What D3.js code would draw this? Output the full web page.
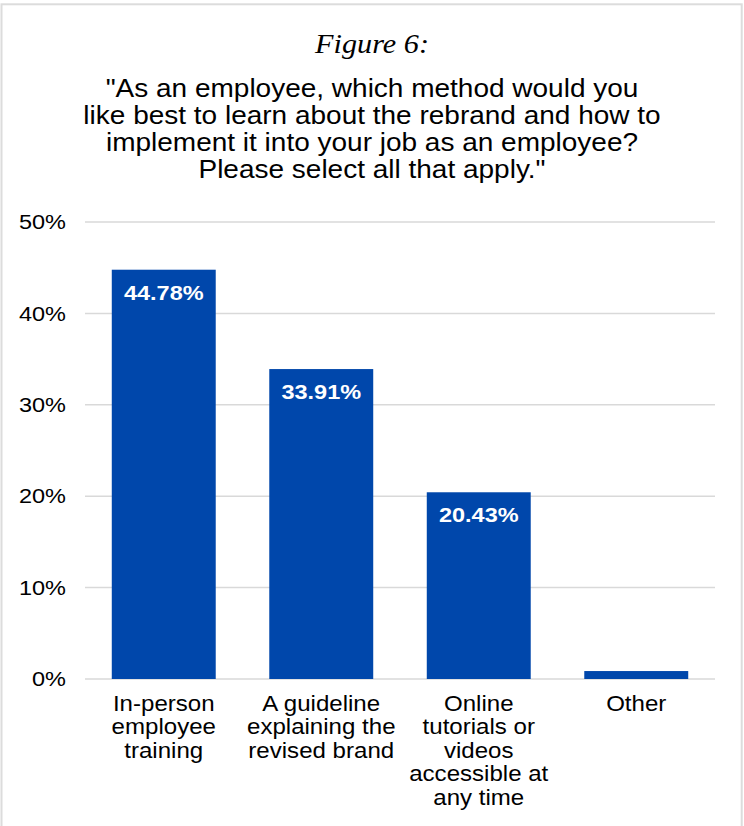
<!DOCTYPE html>
<html>
<head>
<meta charset="utf-8">
<script src="https://cdn.jsdelivr.net/npm/d3@7"></script>
<style>
  body { margin: 0; background: #fff; }
</style>
</head>
<body>
<script>
// chart data
var categories = [
    ["In-person", "employee", "training"],
    ["A guideline", "explaining the", "revised brand"],
    ["Online", "tutorials or", "videos", "accessible at", "any time"],
    ["Other"]
];
var values = [44.78, 33.91, 20.43, 0.87];
var valueLabels = ["44.78%", "33.91%", "20.43%", ""];
var yTicks = [0, 10, 20, 30, 40, 50];
var titleText = "Figure 6:";
var subtitleLines = [
    "\"As an employee, which method would you",
    "like best to learn about the rebrand and how to",
    "implement it into your job as an employee?",
    "Please select all that apply.\""
];

var width = 744, height = 826;
var sans = "'Liberation Sans', Arial, Helvetica, sans-serif";
var sx = 1.12; // the original text is a bit wider than it is tall

var svg = d3.select("body")
    .append("svg")
    .attr("width", width)
    .attr("height", height);

// outer frame
svg.append("rect")
    .attr("x", 1.5).attr("y", 4.3)
    .attr("width", 740.2).attr("height", 830)
    .attr("fill", "#fff")
    .attr("stroke", "#dcdcdc")
    .attr("stroke-width", 2);

// titles
svg.append("text")
    .attr("transform", "translate(372,53) scale(" + sx + ",1)")
    .attr("text-anchor", "middle")
    .attr("font-family", "'Liberation Serif', 'Times New Roman', serif")
    .attr("font-style", "italic")
    .attr("font-size", 27)
    .text(titleText);

svg.selectAll(".subtitle")
    .data(subtitleLines)
    .enter()
    .append("text")
    .attr("class", "subtitle")
    .attr("transform", function(d, i){
        return "translate(372," + (97 + i * 27) + ") scale(" + sx + ",1)";
    })
    .attr("text-anchor", "middle")
    .attr("font-family", sans)
    .attr("font-size", 25)
    .text(function(d){ return d; });

var x = d3.scaleBand()
    .domain(d3.range(categories.length))
    .range([85, 715])
    .paddingInner(0.34)
    .paddingOuter(0.17);

var y = d3.scaleLinear()
    .domain([0, 50])
    .range([679, 222]);

// gridlines
svg.selectAll(".grid")
    .data(yTicks)
    .enter()
    .append("line")
    .attr("class", "grid")
    .attr("x1", 85).attr("x2", 715)
    .attr("y1", function(d){ return y(d); })
    .attr("y2", function(d){ return y(d); })
    .attr("stroke", "#d9d9d9")
    .attr("stroke-width", 1.5);

// y axis labels
var yAxis = d3.axisLeft(y)
    .tickValues(yTicks)
    .tickSize(0)
    .tickPadding(17)
    .tickFormat(function(d){ return d + "%"; });

var yg = svg.append("g")
    .attr("transform", "translate(85,0)")
    .call(yAxis);
yg.select(".domain").remove();
yg.selectAll(".tick").each(function(){
    var t = d3.select(this).attr("transform");
    d3.select(this).attr("transform", t + " scale(" + sx + ",1)");
});
yg.selectAll("text")
    .attr("font-family", sans)
    .attr("font-size", 21)
    .attr("fill", "#000");

// bars
svg.selectAll(".bar")
    .data(values)
    .enter()
    .append("rect")
    .attr("class", "bar")
    .attr("x", function(d, i){ return x(i); })
    .attr("y", function(d){ return y(d); })
    .attr("width", x.bandwidth())
    .attr("height", function(d){ return y(0) - y(d); })
    .attr("fill", "#0047ab");

// value labels inside bars
svg.selectAll(".vlabel")
    .data(values)
    .enter()
    .append("text")
    .attr("class", "vlabel")
    .attr("transform", function(d, i){
        return "translate(" + (x(i) + x.bandwidth() / 2) + "," + (y(d) + 30) + ") scale(" + sx + ",1)";
    })
    .attr("text-anchor", "middle")
    .attr("font-family", sans)
    .attr("font-weight", "bold")
    .attr("font-size", 21)
    .attr("fill", "#fff")
    .text(function(d, i){ return valueLabels[i]; });

// category labels
var cat = svg.selectAll(".cat")
    .data(categories)
    .enter()
    .append("text")
    .attr("class", "cat")
    .attr("transform", function(d, i){
        return "translate(" + (x(i) + x.bandwidth() / 2) + ",711) scale(" + sx + ",1)";
    })
    .attr("text-anchor", "middle")
    .attr("font-family", sans)
    .attr("font-size", 21.5)
    .attr("fill", "#000");

cat.selectAll("tspan")
    .data(function(d){ return d; })
    .enter()
    .append("tspan")
    .attr("x", 0)
    .attr("y", function(d, j){ return j * 23.5; })
    .text(function(d){ return d; });
</script>
</body>
</html>
